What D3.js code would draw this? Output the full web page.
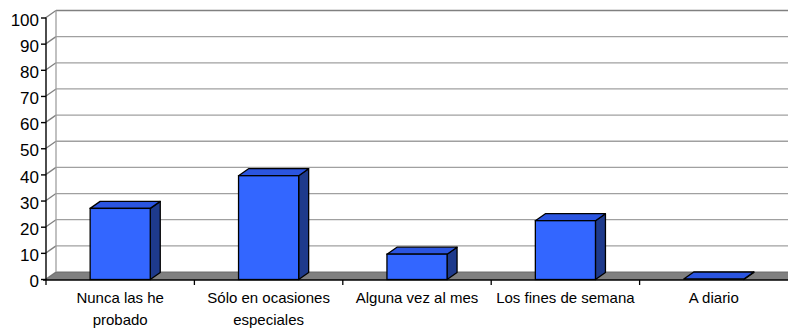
<!DOCTYPE html>
<html><head><meta charset="utf-8">
<script src="https://cdn.jsdelivr.net/npm/d3@7/dist/d3.min.js"></script>
<style>body{margin:0;background:#fff}svg{display:block}text{font-family:"Liberation Sans",Arial,sans-serif}</style>
</head><body><svg id="c" width="788" height="330"></svg>
<script>
const categories = [["Nunca las he","probado"],["Sólo en ocasiones","especiales"],["Alguna vez al mes"],["Los fines de semana"],["A diario"]];
const values = [27, 39.5, 9.5, 22.3, 0];
const yTicks = [0,10,20,30,40,50,60,70,80,90,100];

const svg = d3.select("#c");
const X0 = 46, X1 = 788, DX = 10, DY = -7;
const keys = categories.map(c => c.join(" "));
const x = d3.scaleBand().domain(keys).range([X0, X1]).padding(0);
const y = d3.scaleLinear().domain([0, 100]).range([279, 17.5]);

// back wall gridlines
const g = svg.append("g");
yTicks.forEach(t => {
  g.append("line").attr("x1", X0 + DX).attr("x2", X1 + 2).attr("y1", y(t) + DY).attr("y2", y(t) + DY)
    .attr("stroke", t === 100 ? "#808080" : "#a0a0a0").attr("stroke-width", t === 100 ? 1.6 : 1.3);
  // side wall diagonals
  g.append("line").attr("x1", X0).attr("y1", y(t)).attr("x2", X0 + DX).attr("y2", y(t) + DY)
    .attr("stroke", "#808080").attr("stroke-width", 1.3);
});
// back wall left edge
g.append("line").attr("x1", X0 + DX).attr("x2", X0 + DX).attr("y1", y(100) + DY).attr("y2", y(0) + DY)
  .attr("stroke", "#a0a0a0").attr("stroke-width", 1.3);

// floor
const fy = y(0) + 0.5;
g.append("polygon")
  .attr("points", [[X0, fy], [X1, fy], [X1 + DX, fy + DY], [X0 + DX, fy + DY]].map(p => p.join(",")).join(" "))
  .attr("fill", "#808080").attr("stroke", "#6a6a6a").attr("stroke-width", 0.8);

// bars
const bw = x.bandwidth() * 0.405;
const bars = svg.append("g").selectAll("g").data(values).join("g");
bars.each(function(v, i) {
  const cx = x(keys[i]) + x.bandwidth() / 2;
  const l = cx - bw / 2, r = cx + bw / 2, top = y(v), bot = y(0) + 0.5;
  const s = d3.select(this);
  s.append("polygon").attr("points", [[r, top], [r + DX, top + DY], [r + DX, bot + DY], [r, bot]].map(p => p.join(",")).join(" "))
    .attr("fill", "#1e3a8c").attr("stroke", "#000").attr("stroke-width", 1.3).attr("stroke-linejoin", "round");
  s.append("polygon").attr("points", [[l, top], [l + DX, top + DY], [r + DX, top + DY], [r, top]].map(p => p.join(",")).join(" "))
    .attr("fill", "#2b55e0").attr("stroke", "#000").attr("stroke-width", 1.3).attr("stroke-linejoin", "round");
  if (bot - top > 0.5)
    s.append("rect").attr("x", l).attr("y", top).attr("width", bw).attr("height", bot - top)
      .attr("fill", "#3366ff").attr("stroke", "#000").attr("stroke-width", 1.3);
});

// y axis
const ya = svg.append("g").attr("transform", `translate(${X0},0)`)
  .call(d3.axisLeft(y).tickValues(yTicks).tickSize(5).tickPadding(2).tickFormat(d3.format("d")));
ya.select(".domain").attr("stroke", "#000").attr("stroke-width", 1.4).attr("d", `M0,${y(100)}V280`);
ya.selectAll(".tick line").attr("stroke", "#000").attr("stroke-width", 1.4);
ya.selectAll(".tick text").attr("font-size", 17).attr("fill", "#000").attr("dy", "0.45em")
  .style("font-family", '"Liberation Sans", Arial, sans-serif');

// x axis
const xa = svg.append("g");
xa.append("line").attr("x1", X0 - 3).attr("x2", X1).attr("y1", 280).attr("y2", 280).attr("stroke", "#000").attr("stroke-width", 1.6);
keys.forEach((k, i) => {
  xa.append("line").attr("x1", x(k)).attr("x2", x(k)).attr("y1", 280).attr("y2", 285).attr("stroke", "#000").attr("stroke-width", 1.3);
});
keys.forEach((k, i) => {
  const t = xa.append("text").attr("x", x(k) + x.bandwidth() / 2).attr("text-anchor", "middle")
    .attr("font-size", 15).attr("fill", "#000");
  categories[i].forEach((line, j) => {
    t.append("tspan").attr("x", x(k) + x.bandwidth() / 2).attr("y", 303 + j * 22).text(line);
  });
});
</script></body></html>
